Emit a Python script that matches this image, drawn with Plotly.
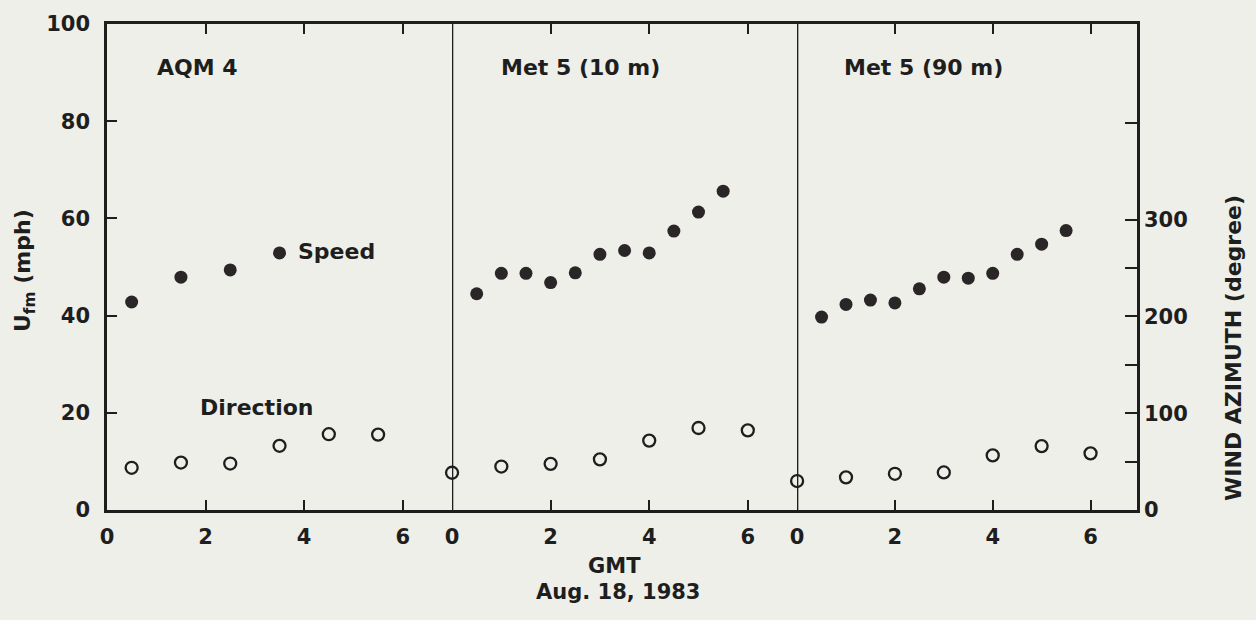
import plotly.graph_objects as go

# Hours (GMT, Aug. 18, 1983) and observations for each station
aqm4_speed_t = [0.5, 1.5, 2.5, 3.5]
aqm4_speed = [42.8, 47.9, 49.4, 52.9]
aqm4_dir_t = [0.5, 1.5, 2.5, 3.5, 4.5, 5.5]
aqm4_dir = [43.6, 49.0, 48.0, 66.3, 78.3, 77.9]

met10_speed_t = [0.5, 1.0, 1.5, 2.0, 2.5, 3.0, 3.5, 4.0, 4.5, 5.0, 5.5]
met10_speed = [44.5, 48.7, 48.7, 46.8, 48.8, 52.6, 53.4, 52.9, 57.4, 61.3, 65.6]
met10_dir_t = [0, 1, 2, 3, 4, 5, 6]
met10_dir = [38.5, 44.9, 47.7, 52.3, 71.7, 84.7, 82.3]

met90_speed_t = [0.5, 1.0, 1.5, 2.0, 2.5, 3.0, 3.5, 4.0, 4.5, 5.0, 5.5]
met90_speed = [39.7, 42.3, 43.2, 42.6, 45.5, 47.9, 47.7, 48.7, 52.6, 54.7, 57.5]
met90_dir_t = [0, 1, 2, 3, 4, 5, 6]
met90_dir = [29.9, 33.7, 37.4, 38.8, 56.4, 66.0, 58.5]

panel_titles = ["AQM 4", "Met 5 (10 m)", "Met 5 (90 m)"]
hour_ticks = [0, 2, 4, 6]
speed_ticks = [0, 20, 40, 60, 80, 100]
azimuth_ticks = [0, 100, 200, 300]
azimuth_minor_ticks = [50, 150, 250, 400]

INK = "#1e1e1e"
BG = "#efefe9"
FONT = dict(family="DejaVu Sans", size=21, color=INK, weight="bold")
TITLE_FONT = dict(family="DejaVu Sans", size=22, color=INK, weight="bold")

fig = go.Figure()

panels = [
    ("x", aqm4_speed_t, aqm4_speed, aqm4_dir_t, aqm4_dir),
    ("x2", met10_speed_t, met10_speed, met10_dir_t, met10_dir),
    ("x3", met90_speed_t, met90_speed, met90_dir_t, met90_dir),
]
for xa, st, sv, dt, dv in panels:
    fig.add_trace(go.Scatter(
        x=st, y=sv, xaxis=xa, yaxis="y", mode="markers", cliponaxis=False,
        marker=dict(symbol="circle", size=13, color="#2a2628"),
        showlegend=False, name="Speed"))
    fig.add_trace(go.Scatter(
        x=dt, y=dv, xaxis=xa, yaxis="y2", mode="markers", cliponaxis=False,
        marker=dict(symbol="circle-open", size=12, color=INK, line=dict(width=2.3, color=INK)),
        showlegend=False, name="Direction"))

xcommon = dict(
    showline=True, linecolor=INK, linewidth=2.5, mirror="ticks",
    ticks="inside", ticklen=10, tickwidth=2, tickcolor=INK,
    tickvals=hour_ticks, showgrid=False, zeroline=False,
    tickfont=FONT, anchor="y", fixedrange=True, ticklabelstandoff=6,
)
fig.update_layout(
    xaxis=dict(domain=[0, 0.335], range=[0, 7], **xcommon),
    xaxis2=dict(domain=[0.335, 0.67], range=[0, 7], **xcommon),
    xaxis3=dict(domain=[0.67, 1.0], range=[0, 6.95], **xcommon),
    yaxis=dict(
        range=[0, 100], tickvals=speed_ticks, showline=True, linecolor=INK,
        linewidth=2.5, ticks="inside", ticklen=10, tickwidth=2, tickcolor=INK,
        showgrid=False, zeroline=False, tickfont=FONT, anchor="x",
        ticklabelstandoff=10,
    ),
    yaxis2=dict(
        range=[0, 502], overlaying="y", side="right", anchor="x3",
        tickvals=azimuth_ticks, showline=True,
        linecolor=INK, linewidth=2.5, ticks="inside", ticklen=12, tickwidth=2,
        tickcolor=INK, showgrid=False, zeroline=False, tickfont=FONT,
        minor=dict(tickmode="array", tickvals=azimuth_minor_ticks, ticks="inside",
                   ticklen=12, tickwidth=2, tickcolor=INK, showgrid=False),
    ),
    width=1256, height=620,
    margin=dict(l=107, r=119, t=17, b=110),
    paper_bgcolor=BG, plot_bgcolor=BG,
    font=FONT,
)

# panel dividers
for xa in ["x2", "x3"]:
    fig.add_shape(type="line", xref=xa, yref="paper", x0=0, x1=0, y0=0, y1=1,
                  line=dict(color=INK, width=2.5))

# panel titles
for xa, xpos, title in zip(["x", "x2", "x3"], [0.97, 0.95, 0.92], panel_titles):
    fig.add_annotation(x=xpos, y=91, xref=xa, yref="y", text=title,
                       showarrow=False, xanchor="left", yanchor="middle", font=TITLE_FONT)

fig.add_annotation(x=3.83, y=53.2, xref="x", yref="y", text="Speed",
                   showarrow=False, xanchor="left", yanchor="middle", font=TITLE_FONT)
fig.add_annotation(x=1.85, y=21.1, xref="x", yref="y", text="Direction",
                   showarrow=False, xanchor="left", yanchor="middle", font=TITLE_FONT)

# axis titles
fig.add_annotation(x=-0.08, y=0.493, xref="paper", yref="paper",
                   text="U<sub>fm</sub> (mph)", textangle=-90, showarrow=False,
                   xanchor="center", yanchor="middle", font=TITLE_FONT)
fig.add_annotation(x=1.093, y=0.333, xref="paper", yref="paper",
                   text="WIND AZIMUTH (degree)", textangle=-90, showarrow=False,
                   xanchor="center", yanchor="middle", font=TITLE_FONT)
fig.add_annotation(x=0.493, y=-0.116, xref="paper", yref="paper", text="GMT",
                   showarrow=False, xanchor="center", yanchor="middle", font=FONT)
fig.add_annotation(x=0.496, y=-0.169, xref="paper", yref="paper", text="Aug. 18, 1983",
                   showarrow=False, xanchor="center", yanchor="middle", font=FONT)

fig.write_html("out.html")
